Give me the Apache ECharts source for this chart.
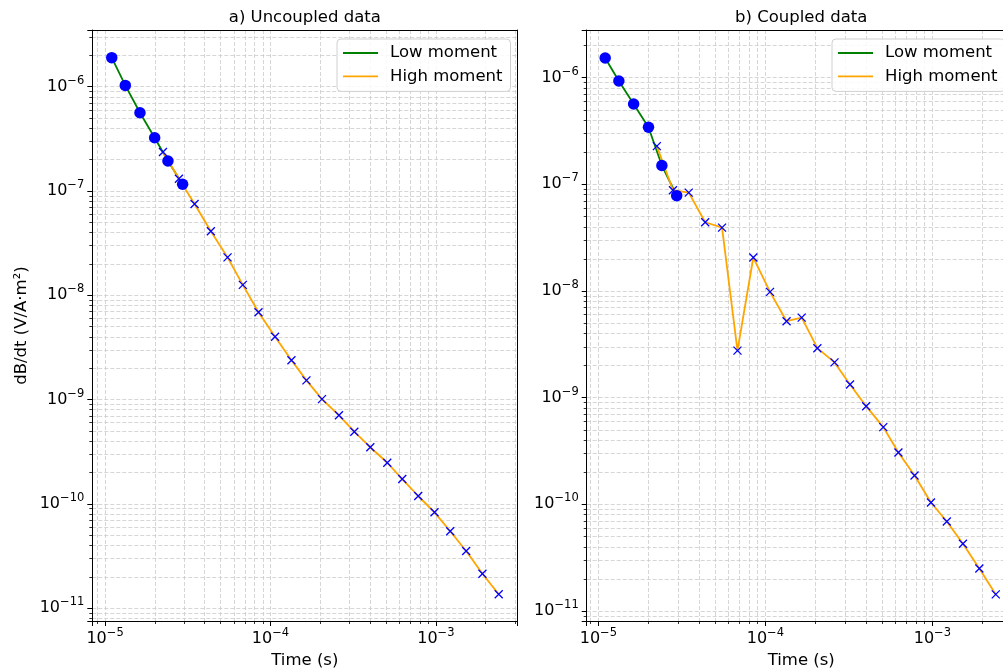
<!DOCTYPE html>
<html>
<head>
<meta charset="utf-8">
<script src="https://cdn.jsdelivr.net/npm/echarts@6.0.0/dist/echarts.min.js"></script>
<style>
  html, body { margin: 0; padding: 0; background: #fff; }
  #chart { width: 1003px; height: 670px; }
</style>
</head>
<body>
<div id="chart"></div>
<script>
// gate times (s)
const timesLow = [1.098e-5, 1.326e-5, 1.626e-5, 1.995e-5, 2.400e-5, 2.944e-5];
const timesHigh = [
  2.239e-5, 2.796e-5, 3.477e-5, 4.362e-5, 5.502e-5, 6.805e-5, 8.467e-5,
  1.066e-4, 1.339e-4, 1.650e-4, 2.048e-4, 2.594e-4, 3.213e-4, 4.013e-4,
  5.083e-4, 6.262e-4, 7.820e-4, 9.808e-4, 1.220e-3, 1.524e-3, 1.911e-3, 2.397e-3
];

// a) uncoupled
const uncoupledLow = [1.90e-6, 1.03e-6, 5.63e-7, 3.24e-7, 1.94e-7, 1.16e-7];
const uncoupledHigh = [
  2.37e-7, 1.31e-7, 7.50e-8, 4.11e-8, 2.31e-8, 1.26e-8, 6.87e-9,
  4.01e-9, 2.38e-9, 1.53e-9, 1.01e-9, 7.07e-10, 4.92e-10, 3.49e-10,
  2.48e-10, 1.73e-10, 1.19e-10, 8.30e-11, 5.46e-11, 3.53e-11, 2.14e-11, 1.36e-11
];

// b) coupled
const coupledLow = [1.53e-6, 9.31e-7, 5.67e-7, 3.43e-7, 1.50e-7, 7.83e-8];
const coupledHigh = [
  2.28e-7, 8.81e-8, 8.36e-8, 4.41e-8, 3.93e-8, 2.76e-9, 2.06e-8,
  9.81e-9, 5.21e-9, 5.63e-9, 2.91e-9, 2.14e-9, 1.33e-9, 8.32e-10,
  5.29e-10, 3.06e-10, 1.86e-10, 1.04e-10, 6.90e-11, 4.27e-11, 2.50e-11, 1.43e-11
];

const panelTitles = ['a) Uncoupled data', 'b) Coupled data'];
const seriesNames = ['Low moment', 'High moment'];

const FONT = 'DejaVu Sans';
const GREEN = '#008000';
const ORANGE = '#ffa500';
const BLUE = '#0000ff';
const GRID_LINE = { color: '#cbcbcb', width: 0.8, type: [4, 2] };
const LEGEND_LINE = 'path://M0,0H35V1.8H0Z';

const panels = [
  { low: uncoupledLow, high: uncoupledHigh, left: 92.3, width: 425, x: [-5.077, -2.508], y: [-11.123, -5.456], legendLeft: 337 },
  { low: coupledLow, high: coupledHigh, left: 586.7, width: 429, x: [-5.07, -2.501], y: [-11.094, -5.553], legendLeft: 832 }
];

function zip(a, b) {
  return a.map((v, i) => [v, b[i]]);
}

function powLabel(v) {
  const lg = Math.log10(v);
  const e = Math.round(lg);
  if (Math.abs(lg - e) > 1e-6) return '';
  return '{b|10}{s|\u2212' + (-e) + '}';
}

const richLabel = {
  b: { fontFamily: FONT, fontSize: 16, color: '#000', lineHeight: 24 },
  s: { fontFamily: FONT, fontSize: 11.5, color: '#000', lineHeight: 12, verticalAlign: 'top' }
};

function logAxis(gridIndex, ext, extra) {
  return Object.assign({
    type: 'log',
    logBase: 10,
    gridIndex: gridIndex,
    min: Math.pow(10, ext[0]),
    max: Math.pow(10, ext[1]),
    axisLine: { show: true, onZero: false, lineStyle: { color: '#000', width: 1 } },
    axisTick: { show: true, length: 5, lineStyle: { color: '#000', width: 1 } },
    minorTick: { show: true, splitNumber: 9, length: 3, lineStyle: { color: '#000', width: 0.8 } },
    splitLine: { show: true, lineStyle: GRID_LINE },
    minorSplitLine: { show: true, lineStyle: GRID_LINE },
    axisLabel: {
      formatter: powLabel,
      rich: richLabel,
      showMinLabel: false,
      showMaxLabel: false,
      hideOverlap: false
    }
  }, extra);
}

// top / right frame edges drawn as bare axis lines over the grid lines
function frameAxis(gridIndex, ext, position) {
  return {
    type: 'log',
    logBase: 10,
    gridIndex: gridIndex,
    position: position,
    min: Math.pow(10, ext[0]),
    max: Math.pow(10, ext[1]),
    z: 1,
    axisLine: { show: true, onZero: false, lineStyle: { color: '#000', width: 1 } },
    axisTick: { show: false },
    minorTick: { show: false },
    splitLine: { show: false },
    minorSplitLine: { show: false },
    axisLabel: { show: false }
  };
}

const grids = [], xAxes = [], yAxes = [], titles = [], legends = [], series = [];

panels.forEach((p, i) => {
  grids.push({
    left: p.left, top: 30, width: p.width, height: 591,
    show: false,
    containLabel: false,
    outerBoundsMode: 'none'
  });
  const xa = logAxis(i, p.x, {
    position: 'bottom',
    name: 'Time (s)',
    nameLocation: 'middle',
    nameGap: 30,
    nameTextStyle: { fontFamily: FONT, fontSize: 16.5, color: '#000' }
  });
  xa.axisLabel.margin = 6;
  xAxes.push(xa);
  const ya = logAxis(i, p.y, { position: 'left' });
  ya.axisLabel.margin = 8;
  if (i === 0) {
    ya.name = 'dB/dt (V/A\u00b7m\u00b2)';
    ya.nameLocation = 'middle';
    ya.nameGap = 62;
    ya.nameTextStyle = { fontFamily: FONT, fontSize: 16.5, color: '#000' };
  }
  yAxes.push(ya);

  titles.push({
    text: panelTitles[i],
    left: p.left + p.width / 2,
    top: 9,
    padding: 0,
    textAlign: 'center',
    textStyle: { fontFamily: FONT, fontSize: 16.5, fontWeight: 'normal', color: '#000' }
  });

  legends.push({
    data: [
      { name: seriesNames[0], icon: LEGEND_LINE, itemStyle: { color: GREEN } },
      { name: seriesNames[1], icon: LEGEND_LINE, itemStyle: { color: ORANGE } }
    ],
    orient: 'vertical',
    left: p.legendLeft,
    top: 39,
    z: 10,
    itemWidth: 35,
    itemHeight: 14,
    itemGap: 3.4,
    padding: [4, 8, 5, 6],
    backgroundColor: 'rgba(255,255,255,0.85)',
    borderColor: '#d0d0d0',
    borderWidth: 1,
    borderRadius: 4,
    textStyle: { fontFamily: FONT, fontSize: 16.5, color: '#000', lineHeight: 20, padding: [0, 0, 0, 7] }
  });

  series.push({
    name: seriesNames[0], type: 'line', xAxisIndex: 2 * i, yAxisIndex: 2 * i,
    data: zip(timesLow, p.low), symbol: 'none', z: 2,
    lineStyle: { color: GREEN, width: 1.8 }, itemStyle: { color: GREEN }
  });
  series.push({
    name: seriesNames[1], type: 'line', xAxisIndex: 2 * i, yAxisIndex: 2 * i,
    data: zip(timesHigh, p.high), symbol: 'none', z: 2,
    lineStyle: { color: ORANGE, width: 1.8 }, itemStyle: { color: ORANGE }
  });
  series.push({
    name: 'low points', type: 'scatter', xAxisIndex: 2 * i, yAxisIndex: 2 * i,
    data: zip(timesLow, p.low), symbol: 'circle', symbolSize: 11.5, z: 3,
    itemStyle: { color: BLUE, opacity: 1 }
  });
  series.push({
    name: 'high points', type: 'scatter', xAxisIndex: 2 * i, yAxisIndex: 2 * i,
    data: zip(timesHigh, p.high), symbol: 'path://M0,0L10,10M0,10L10,0', symbolSize: 8, z: 3,
    itemStyle: { color: BLUE, borderColor: BLUE, borderWidth: 1.3, opacity: 1 }
  });

  xAxes.push(frameAxis(i, p.x, 'top'));
  yAxes.push(frameAxis(i, p.y, 'right'));
});

// data axes sit at even indices, frame axes at odd indices
const chart = echarts.init(document.getElementById('chart'), null, { renderer: 'canvas' });
chart.setOption({
  animation: false,
  backgroundColor: '#fff',
  textStyle: { fontFamily: FONT },
  title: titles,
  legend: legends,
  grid: grids,
  xAxis: xAxes,
  yAxis: yAxes,
  series: series
});
</script>
</body>
</html>
